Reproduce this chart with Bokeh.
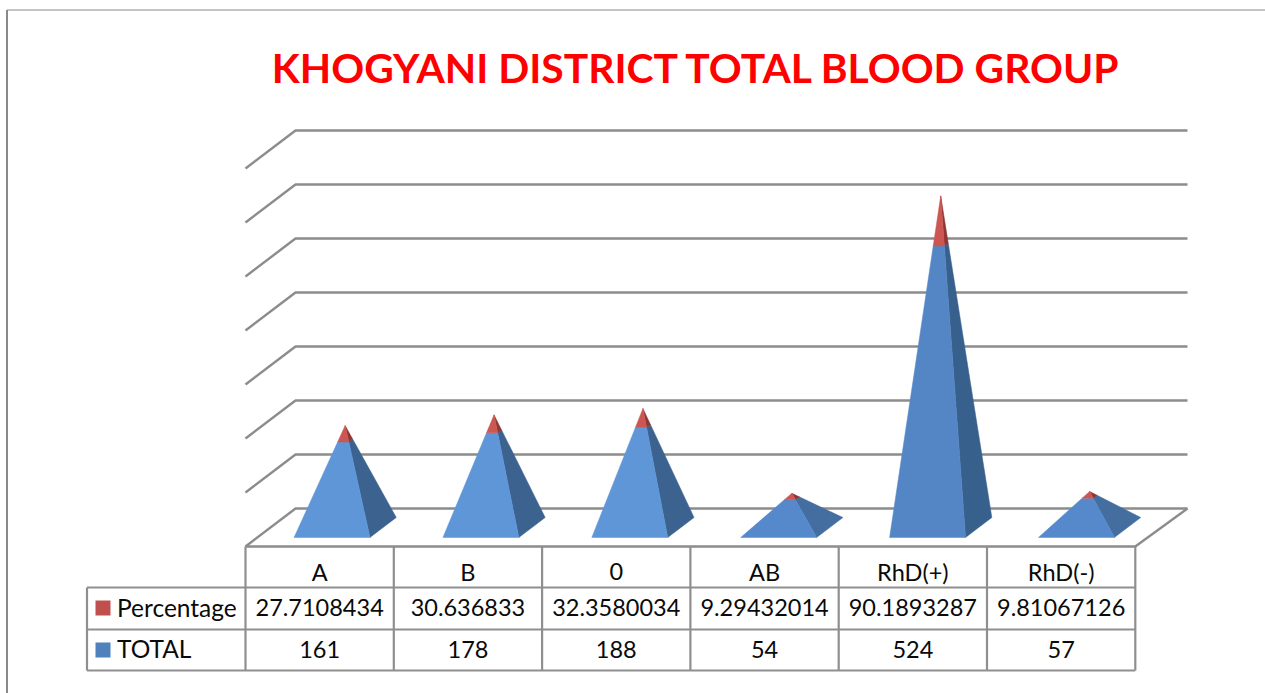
from bokeh.plotting import figure
from bokeh.models import Range1d
from bokeh.core.properties import value
from bokeh.embed import file_html
from bokeh.resources import INLINE

groups = ["A", "B", "0", "AB", "RhD(+)", "RhD(-)"]
percentage = [27.7108434, 30.636833, 32.3580034, 9.29432014, 90.1893287, 9.81067126]
total = [161, 178, 188, 54, 524, 57]
percentage_labels = ["27.7108434", "30.636833", "32.3580034", "9.29432014", "90.1893287", "9.81067126"]
y_ticks = [0, 100, 200, 300, 400, 500, 600, 700]
series = ["Percentage", "TOTAL"]
title = "KHOGYANI DISTRICT TOTAL BLOOD GROUP"

W, H = 1265, 693
X0, CW = 245.0, 148.3      # pixel of first category edge, pixel width of a category
Y0, PXV = 546.0, 0.54      # pixel of value 0 on the front floor edge, pixels per value
DX, DY = 50.0, 38.0        # pixel offset of the chart's depth
BACK_RIGHT = 1187          # pixel where the back wall ends

def vx(px):
    return (px - X0) / CW

def vy(py):
    return (Y0 - py) / PXV

p = figure(width=W, height=H, output_backend="svg", toolbar_location=None,
           x_range=Range1d(vx(0), vx(W)), y_range=Range1d(vy(H), vy(0)),
           min_border=0, outline_line_color=None, background_fill_color="white")
p.xaxis.visible = False
p.yaxis.visible = False
p.grid.visible = False

def proj(cat, val, depth):
    return cat + depth * DX / CW, val + depth * DY / PXV

GRID = "#8c8c8c"
n = len(groups)

# outer frame
p.line([vx(6.5), vx(6.5)], [vy(H), vy(9.5)], line_color="#8a8a8a", line_width=2)
p.line([vx(6.5), vx(W)], [vy(9.5), vy(9.5)], line_color="#8a8a8a", line_width=1.2)

# walls and floor
for t in y_ticks:
    xs, ys = zip(proj(0, t, 0), proj(0, t, 1))
    back_y = ys[1]
    p.line(list(xs) + [vx(BACK_RIGHT)], list(ys) + [back_y], line_color=GRID, line_width=2.4)
p.line([0, n, vx(BACK_RIGHT)], [0, 0, proj(0, 0, 1)[1]], line_color=GRID, line_width=2.4)

# pyramids
HW, HD = 0.256, 0.263
SPACING, SHIFT = 1.004, 0.5 / CW
FRONT_B = ["#5f96d8", "#5f96d8", "#5f96d8", "#5589cc", "#5486c6", "#5589cc"]
SIDE_B = ["#3c6390", "#3c6390", "#3c6390", "#446ea0", "#38608c", "#446ea0"]

def faces(i, lo, hi, top):
    c = 0.5 + i * SPACING + SHIFT
    fl, fh = 1 - lo / top, 1 - hi / top
    fa = [proj(c - HW * fl, lo, 0.5 - HD * fl), proj(c + HW * fl, lo, 0.5 - HD * fl),
          proj(c + HW * fh, hi, 0.5 - HD * fh), proj(c - HW * fh, hi, 0.5 - HD * fh)]
    si = [proj(c + HW * fl, lo, 0.5 - HD * fl), proj(c + HW * fl, lo, 0.5 + HD * fl),
          proj(c + HW * fh, hi, 0.5 + HD * fh), proj(c + HW * fh, hi, 0.5 - HD * fh)]
    return fa, si

for i in range(n):
    top = total[i] + percentage[i]
    for lo, hi, front, side in [(0, total[i], FRONT_B[i], SIDE_B[i]),
                                (total[i], top, "#cc5652", "#8e3633")]:
        fa, si = faces(i, lo, hi, top)
        p.patch([q[0] for q in si], [q[1] for q in si], fill_color=side, line_color=side, line_width=0.5)
        p.patch([q[0] for q in fa], [q[1] for q in fa], fill_color=front, line_color=front, line_width=0.5)

# data table
ROWS = [Y0, 587, 629, 670]
TC = "#8f8f8f"
for k in range(n + 1):
    p.line([k, k], [vy(ROWS[0]), vy(ROWS[3])], line_color=TC, line_width=2.2)
p.line([vx(86.5), vx(86.5)], [vy(ROWS[1]), vy(ROWS[3])], line_color=TC, line_width=2.2)
for r in ROWS[1:]:
    p.line([vx(86.5), n], [vy(r), vy(r)], line_color=TC, line_width=2.2)

def label(xs, py, texts, align="center", size="23.5px"):
    p.text(xs, [vy(py)] * len(xs), text=texts, text_font=value("Lato"), text_font_size=size,
           text_align=align, text_baseline="middle", text_color="#0a0a0a")

centers = [i + 0.5 for i in range(n)]
label(centers, 571, groups)
label(centers, 607, percentage_labels)
label(centers, 649, [str(v) for v in total])
label([vx(116.5)], 606.5, [series[0]], "left", "24.5px")
label([vx(116.5)], 648, [series[1]], "left", "24.5px")

p.quad(left=[vx(95)], right=[vx(110)], top=[vy(600)], bottom=[vy(615)], fill_color="#c0504d", line_color=None)
p.quad(left=[vx(95)], right=[vx(110)], top=[vy(642)], bottom=[vy(657)], fill_color="#4f81bd", line_color=None)

p.text([vx(696.5)], [vy(67)], text=[title], text_font=value("Lato"), text_font_style="bold",
       text_font_size="40.8px", text_align="center", text_baseline="middle", text_color="#ff0000")

open("out.html", "w").write(file_html(p, INLINE))
